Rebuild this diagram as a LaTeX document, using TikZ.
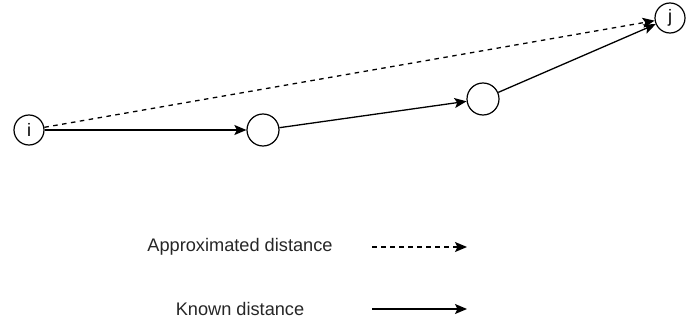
\documentclass[tikz,border=0pt]{standalone}
\usepackage{fontspec}
\setmainfont{Liberation Sans}
\usepackage{tikz}
\usetikzlibrary{arrows.meta, positioning}
\tikzset{
  dn-node/.style={
    circle, draw=black, fill=white, line width=1.2pt,
    inner sep=0pt, minimum size=30pt, font=\fontsize{18}{20}\selectfont
  },
  dn-mid/.style={dn-node, minimum size=32pt},
  dn-label/.style={font=\fontsize{18.2}{20}\selectfont, inner sep=0pt, text=black!85},
  dn-known/.style={-{Stealth[length=12pt, width=10pt, inset=2.5pt]}, line width=1.3pt, draw=black},
  dn-approx/.style={dn-known, dash pattern=on 4.5pt off 4.5pt},
}

\begin{document}
\begin{tikzpicture}[x=1pt, y=-1pt]
  \useasboundingbox (0,0) rectangle (694,321);

  \node[dn-node] (i) at (29,130) {i};
  \node[dn-mid]  (m1) at (263,130) {};
  \node[dn-mid]  (m2) at (483,99) {};
  \node[dn-node] (j) at (670,18) {j};

  \draw[dn-approx] (i) -- (j);
  \draw[dn-known] (i) -- (m1);
  \draw[dn-known] (m1) -- (m2);
  \draw[dn-known] (m2) -- (j);

  % legend
  \node[dn-label] (approx) at (240,247) {Approximated distance};
  \node[dn-label] (known) at (240,309) {Known distance};
  \coordinate (a1) at (372,247);
  \coordinate (a2) at (467,247);
  \coordinate (k1) at (372,309);
  \coordinate (k2) at (467,309);
  \draw[dn-approx] (a1) -- (a2);
  \draw[dn-known] (k1) -- (k2);

\end{tikzpicture}
\end{document}
